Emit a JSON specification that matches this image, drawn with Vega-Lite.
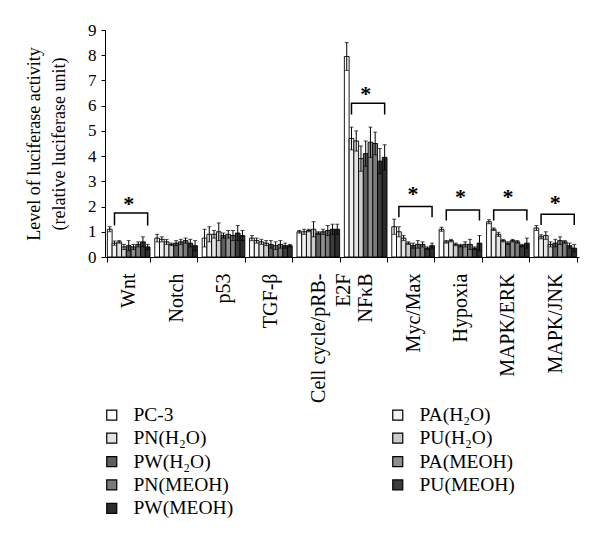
{
  "$schema": "https://vega.github.io/schema/vega-lite/v6.json",
  "autosize": {"type": "none"},
  "width": 474,
  "height": 227,
  "padding": {"left": 105, "top": 30, "right": 21, "bottom": 284},
  "config": {
    "font": "Liberation Serif",
    "view": {"stroke": null},
    "axis": {"labelFont": "Liberation Serif", "titleFont": "Liberation Serif", "labelColor": "black", "titleColor": "black", "domainColor": "black", "tickColor": "black", "grid": false},
    "legend": {"labelFont": "Liberation Serif", "labelColor": "black"}
  },
  "datasets": {
    "vals": [
      {"cat": "Wnt", "series": "PC-3", "value": 1.1, "err": 0.1},
      {"cat": "Wnt", "series": "PA(H₂O)", "value": 0.55, "err": 0.08},
      {"cat": "Wnt", "series": "PN(H₂O)", "value": 0.6, "err": 0.05},
      {"cat": "Wnt", "series": "PU(H₂O)", "value": 0.4, "err": 0.1},
      {"cat": "Wnt", "series": "PW(H₂O)", "value": 0.45, "err": 0.2},
      {"cat": "Wnt", "series": "PA(MEOH)", "value": 0.4, "err": 0.1},
      {"cat": "Wnt", "series": "PN(MEOH)", "value": 0.5, "err": 0.1},
      {"cat": "Wnt", "series": "PU(MEOH)", "value": 0.6, "err": 0.2},
      {"cat": "Wnt", "series": "PW(MEOH)", "value": 0.4, "err": 0.1},
      {"cat": "Notch", "series": "PC-3", "value": 0.75, "err": 0.15},
      {"cat": "Notch", "series": "PA(H₂O)", "value": 0.7, "err": 0.1},
      {"cat": "Notch", "series": "PN(H₂O)", "value": 0.6, "err": 0.1},
      {"cat": "Notch", "series": "PU(H₂O)", "value": 0.5, "err": 0.05},
      {"cat": "Notch", "series": "PW(H₂O)", "value": 0.55, "err": 0.1},
      {"cat": "Notch", "series": "PA(MEOH)", "value": 0.6, "err": 0.1},
      {"cat": "Notch", "series": "PN(MEOH)", "value": 0.65, "err": 0.1},
      {"cat": "Notch", "series": "PU(MEOH)", "value": 0.55, "err": 0.15},
      {"cat": "Notch", "series": "PW(MEOH)", "value": 0.45, "err": 0.2},
      {"cat": "p53", "series": "PC-3", "value": 0.75, "err": 0.35},
      {"cat": "p53", "series": "PA(H₂O)", "value": 0.9, "err": 0.3},
      {"cat": "p53", "series": "PN(H₂O)", "value": 0.9, "err": 0.15},
      {"cat": "p53", "series": "PU(H₂O)", "value": 1.0, "err": 0.35},
      {"cat": "p53", "series": "PW(H₂O)", "value": 0.85, "err": 0.1},
      {"cat": "p53", "series": "PA(MEOH)", "value": 0.9, "err": 0.15},
      {"cat": "p53", "series": "PN(MEOH)", "value": 0.85, "err": 0.2},
      {"cat": "p53", "series": "PU(MEOH)", "value": 0.95, "err": 0.3},
      {"cat": "p53", "series": "PW(MEOH)", "value": 0.85, "err": 0.2},
      {"cat": "TGF-β", "series": "PC-3", "value": 0.75, "err": 0.1},
      {"cat": "TGF-β", "series": "PA(H₂O)", "value": 0.65, "err": 0.1},
      {"cat": "TGF-β", "series": "PN(H₂O)", "value": 0.6, "err": 0.1},
      {"cat": "TGF-β", "series": "PU(H₂O)", "value": 0.55, "err": 0.1},
      {"cat": "TGF-β", "series": "PW(H₂O)", "value": 0.5, "err": 0.15},
      {"cat": "TGF-β", "series": "PA(MEOH)", "value": 0.45, "err": 0.15},
      {"cat": "TGF-β", "series": "PN(MEOH)", "value": 0.5, "err": 0.15},
      {"cat": "TGF-β", "series": "PU(MEOH)", "value": 0.45, "err": 0.1},
      {"cat": "TGF-β", "series": "PW(MEOH)", "value": 0.45, "err": 0.05},
      {"cat": "Cell cycle/pRB-E2F", "series": "PC-3", "value": 1.0, "err": 0.05},
      {"cat": "Cell cycle/pRB-E2F", "series": "PA(H₂O)", "value": 1.0, "err": 0.1},
      {"cat": "Cell cycle/pRB-E2F", "series": "PN(H₂O)", "value": 1.05, "err": 0.05},
      {"cat": "Cell cycle/pRB-E2F", "series": "PU(H₂O)", "value": 1.1, "err": 0.3},
      {"cat": "Cell cycle/pRB-E2F", "series": "PW(H₂O)", "value": 0.95, "err": 0.05},
      {"cat": "Cell cycle/pRB-E2F", "series": "PA(MEOH)", "value": 1.0, "err": 0.1},
      {"cat": "Cell cycle/pRB-E2F", "series": "PN(MEOH)", "value": 1.05, "err": 0.2},
      {"cat": "Cell cycle/pRB-E2F", "series": "PU(MEOH)", "value": 1.1, "err": 0.2},
      {"cat": "Cell cycle/pRB-E2F", "series": "PW(MEOH)", "value": 1.1, "err": 0.2},
      {"cat": "NFκB", "series": "PC-3", "value": 7.95, "err": 0.55},
      {"cat": "NFκB", "series": "PA(H₂O)", "value": 4.7, "err": 0.45},
      {"cat": "NFκB", "series": "PN(H₂O)", "value": 4.6, "err": 0.4},
      {"cat": "NFκB", "series": "PU(H₂O)", "value": 3.9, "err": 0.5},
      {"cat": "NFκB", "series": "PW(H₂O)", "value": 4.1, "err": 0.5},
      {"cat": "NFκB", "series": "PA(MEOH)", "value": 4.55, "err": 0.6},
      {"cat": "NFκB", "series": "PN(MEOH)", "value": 4.5, "err": 0.45},
      {"cat": "NFκB", "series": "PU(MEOH)", "value": 3.8, "err": 0.5},
      {"cat": "NFκB", "series": "PW(MEOH)", "value": 3.95, "err": 0.5},
      {"cat": "Myc/Max", "series": "PC-3", "value": 1.2, "err": 0.3},
      {"cat": "Myc/Max", "series": "PA(H₂O)", "value": 1.0, "err": 0.2},
      {"cat": "Myc/Max", "series": "PN(H₂O)", "value": 0.75, "err": 0.1},
      {"cat": "Myc/Max", "series": "PU(H₂O)", "value": 0.55, "err": 0.05},
      {"cat": "Myc/Max", "series": "PW(H₂O)", "value": 0.45, "err": 0.1},
      {"cat": "Myc/Max", "series": "PA(MEOH)", "value": 0.5, "err": 0.15},
      {"cat": "Myc/Max", "series": "PN(MEOH)", "value": 0.5, "err": 0.1},
      {"cat": "Myc/Max", "series": "PU(MEOH)", "value": 0.35, "err": 0.05},
      {"cat": "Myc/Max", "series": "PW(MEOH)", "value": 0.45, "err": 0.1},
      {"cat": "Hypoxia", "series": "PC-3", "value": 1.1, "err": 0.08},
      {"cat": "Hypoxia", "series": "PA(H₂O)", "value": 0.6, "err": 0.05},
      {"cat": "Hypoxia", "series": "PN(H₂O)", "value": 0.65, "err": 0.05},
      {"cat": "Hypoxia", "series": "PU(H₂O)", "value": 0.5, "err": 0.05},
      {"cat": "Hypoxia", "series": "PW(H₂O)", "value": 0.45, "err": 0.05},
      {"cat": "Hypoxia", "series": "PA(MEOH)", "value": 0.5, "err": 0.1},
      {"cat": "Hypoxia", "series": "PN(MEOH)", "value": 0.5, "err": 0.2},
      {"cat": "Hypoxia", "series": "PU(MEOH)", "value": 0.35, "err": 0.05},
      {"cat": "Hypoxia", "series": "PW(MEOH)", "value": 0.55, "err": 0.3},
      {"cat": "MAPK/ERK", "series": "PC-3", "value": 1.4, "err": 0.08},
      {"cat": "MAPK/ERK", "series": "PA(H₂O)", "value": 1.1, "err": 0.05},
      {"cat": "MAPK/ERK", "series": "PN(H₂O)", "value": 0.9, "err": 0.08},
      {"cat": "MAPK/ERK", "series": "PU(H₂O)", "value": 0.65, "err": 0.05},
      {"cat": "MAPK/ERK", "series": "PW(H₂O)", "value": 0.55, "err": 0.05},
      {"cat": "MAPK/ERK", "series": "PA(MEOH)", "value": 0.65, "err": 0.05},
      {"cat": "MAPK/ERK", "series": "PN(MEOH)", "value": 0.6, "err": 0.05},
      {"cat": "MAPK/ERK", "series": "PU(MEOH)", "value": 0.45, "err": 0.05},
      {"cat": "MAPK/ERK", "series": "PW(MEOH)", "value": 0.55, "err": 0.2},
      {"cat": "MAPK/JNK", "series": "PC-3", "value": 1.15, "err": 0.1},
      {"cat": "MAPK/JNK", "series": "PA(H₂O)", "value": 0.8, "err": 0.08},
      {"cat": "MAPK/JNK", "series": "PN(H₂O)", "value": 0.85, "err": 0.15},
      {"cat": "MAPK/JNK", "series": "PU(H₂O)", "value": 0.5, "err": 0.1},
      {"cat": "MAPK/JNK", "series": "PW(H₂O)", "value": 0.55, "err": 0.15},
      {"cat": "MAPK/JNK", "series": "PA(MEOH)", "value": 0.65, "err": 0.15},
      {"cat": "MAPK/JNK", "series": "PN(MEOH)", "value": 0.6, "err": 0.05},
      {"cat": "MAPK/JNK", "series": "PU(MEOH)", "value": 0.45, "err": 0.1},
      {"cat": "MAPK/JNK", "series": "PW(MEOH)", "value": 0.35, "err": 0.15}
    ],
    "brackets": [
      {"cat": "Wnt", "series": "PA(H₂O)", "value": 1.25, "pt": 1},
      {"cat": "Wnt", "series": "PA(H₂O)", "value": 1.74, "pt": 2},
      {"cat": "Wnt", "series": "PW(MEOH)", "value": 1.74, "pt": 3},
      {"cat": "Wnt", "series": "PW(MEOH)", "value": 1.25, "pt": 4},
      {"cat": "NFκB", "series": "PA(H₂O)", "value": 5.65, "pt": 1},
      {"cat": "NFκB", "series": "PA(H₂O)", "value": 6.1, "pt": 2},
      {"cat": "NFκB", "series": "PW(MEOH)", "value": 6.1, "pt": 3},
      {"cat": "NFκB", "series": "PW(MEOH)", "value": 5.65, "pt": 4},
      {"cat": "Myc/Max", "series": "PA(H₂O)", "value": 1.58, "pt": 1},
      {"cat": "Myc/Max", "series": "PA(H₂O)", "value": 2.0, "pt": 2},
      {"cat": "Myc/Max", "series": "PW(MEOH)", "value": 2.0, "pt": 3},
      {"cat": "Myc/Max", "series": "PW(MEOH)", "value": 1.58, "pt": 4},
      {"cat": "Hypoxia", "series": "PA(H₂O)", "value": 1.45, "pt": 1},
      {"cat": "Hypoxia", "series": "PA(H₂O)", "value": 1.86, "pt": 2},
      {"cat": "Hypoxia", "series": "PW(MEOH)", "value": 1.86, "pt": 3},
      {"cat": "Hypoxia", "series": "PW(MEOH)", "value": 1.45, "pt": 4},
      {"cat": "MAPK/ERK", "series": "PA(H₂O)", "value": 1.45, "pt": 1},
      {"cat": "MAPK/ERK", "series": "PA(H₂O)", "value": 1.86, "pt": 2},
      {"cat": "MAPK/ERK", "series": "PW(MEOH)", "value": 1.86, "pt": 3},
      {"cat": "MAPK/ERK", "series": "PW(MEOH)", "value": 1.45, "pt": 4},
      {"cat": "MAPK/JNK", "series": "PA(H₂O)", "value": 1.27, "pt": 1},
      {"cat": "MAPK/JNK", "series": "PA(H₂O)", "value": 1.69, "pt": 2},
      {"cat": "MAPK/JNK", "series": "PW(MEOH)", "value": 1.69, "pt": 3},
      {"cat": "MAPK/JNK", "series": "PW(MEOH)", "value": 1.27, "pt": 4}
    ],
    "stars": [
      {"cat": "Wnt", "series": "PW(H₂O)", "value": 2.1},
      {"cat": "NFκB", "series": "PW(H₂O)", "value": 6.45},
      {"cat": "Myc/Max", "series": "PW(H₂O)", "value": 2.5},
      {"cat": "Hypoxia", "series": "PW(H₂O)", "value": 2.37},
      {"cat": "MAPK/ERK", "series": "PW(H₂O)", "value": 2.37},
      {"cat": "MAPK/JNK", "series": "PW(H₂O)", "value": 2.15}
    ]
  },
  "encoding": {
    "x": {
      "field": "cat", "type": "nominal", "sort": null, "title": null,
      "scale": {"domain": ["Wnt", "Notch", "p53", "TGF-β", "Cell cycle/pRB-E2F", "NFκB", "Myc/Max", "Hypoxia", "MAPK/ERK", "MAPK/JNK"], "paddingInner": 0.1, "paddingOuter": 0.05},
      "axis": {"labelAngle": -90, "labelFontSize": 20, "labelPadding": 11, "tickBand": "extent", "tickSize": 5, "labelOverlap": false, "labelLineHeight": 25, "labelLimit": 300,
        "labelExpr": "datum.value === 'Cell cycle/pRB-E2F' ? ['Cell cycle/pRB-', 'E2F'] : datum.value"}
    },
    "xOffset": {
      "field": "series", "type": "nominal", "sort": null,
      "scale": {"domain": ["PC-3", "PA(H₂O)", "PN(H₂O)", "PU(H₂O)", "PW(H₂O)", "PA(MEOH)", "PN(MEOH)", "PU(MEOH)", "PW(MEOH)"], "paddingInner": 0, "paddingOuter": 0}
    },
    "y": {
      "field": "value", "type": "quantitative",
      "scale": {"domain": [0, 9], "nice": false},
      "axis": {"values": [0, 1, 2, 3, 4, 5, 6, 7, 8, 9], "labelFontSize": 17, "tickSize": 4, "labelPadding": 5, "titleFontSize": 18, "titleLineHeight": 25, "titlePadding": 19, "titleFontWeight": "normal",
        "title": ["Level of luciferase activity", "(relative luciferase unit)"]}
    }
  },
  "layer": [
    {
      "data": {"name": "vals"},
      "mark": {"type": "bar", "stroke": "black", "strokeWidth": 0.9},
      "encoding": {
        "fill": {
          "field": "series", "type": "nominal",
          "scale": {"domain": ["PC-3", "PN(H₂O)", "PW(H₂O)", "PN(MEOH)", "PW(MEOH)", "PA(H₂O)", "PU(H₂O)", "PA(MEOH)", "PU(MEOH)"],
            "range": ["#ffffff", "#e4e4e4", "#5e5e5e", "#7a7a7a", "#2c2c2c", "#f2f2f2", "#cccccc", "#8e8e8e", "#3c3c3c"]},
          "legend": {"orient": "none", "legendX": -3, "legendY": 375, "columns": 2, "columnPadding": 154, "rowPadding": 2.4, "title": null,
            "symbolType": "square", "symbolSize": 100, "symbolStrokeColor": "black", "symbolStrokeWidth": 1.2,
            "labelFontSize": 19.5, "labelOffset": 12, "labelLimit": 300}
        }
      }
    },
    {
      "data": {"name": "vals"},
      "mark": {"type": "errorbar", "ticks": {"size": 4, "color": "black"}, "rule": {"color": "black", "strokeWidth": 1}},
      "encoding": {
        "yError": {"field": "err"}
      }
    },
    {
      "data": {"name": "brackets"},
      "mark": {"type": "line", "color": "black", "strokeWidth": 1.5},
      "encoding": {
        "detail": {"field": "cat"},
        "order": {"field": "pt", "type": "quantitative"}
      }
    },
    {
      "data": {"name": "stars"},
      "mark": {"type": "text", "text": "*", "fontSize": 22, "fontWeight": "bold", "baseline": "middle"},
      "encoding": {
        "color": {"value": "black"}
      }
    }
  ]
}
